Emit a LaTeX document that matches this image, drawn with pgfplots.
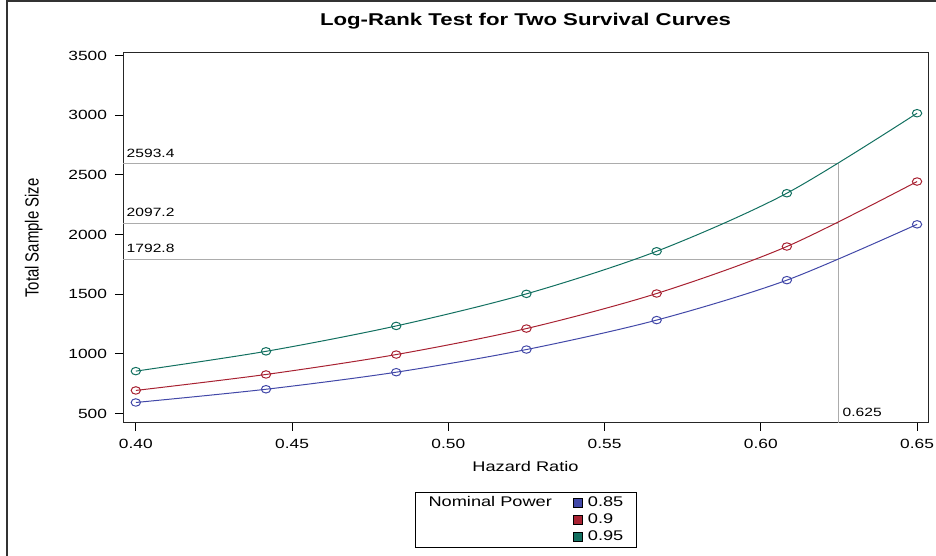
\documentclass[border=0pt]{standalone}
\usepackage{fontspec}
\setmainfont{Liberation Sans}[FakeStretch=1.3]
\newfontfamily\ylabfont{Liberation Sans}[FakeStretch=0.785]
\usepackage{pgfplots}
\pgfplotsset{compat=1.18}

\definecolor{sasblue}{RGB}{66,72,168}
\definecolor{sasred}{RGB}{168,34,50}
\definecolor{sasteal}{RGB}{18,112,96}
\definecolor{refgray}{RGB}{172,172,172}

\begin{document}
\begin{tikzpicture}
\path[use as bounding box] (0,0) rectangle (702pt,417pt);
\begin{axis}[
    at={(92.25pt,99.75pt)}, anchor=south west,
    scale only axis, width=603.75pt, height=277.5pt,
    xmin=0.3959, xmax=0.6535,
    ymin=420, ymax=3523,
    xtick={0.40,0.45,0.50,0.55,0.60,0.65},
    ytick={500,1000,1500,2000,2500,3000,3500},
    tick align=outside, xtick pos=bottom, ytick pos=left,
    major tick length=6pt,
    tick style={black, line width=0.75pt},
    axis line style={black!85, line width=0.75pt},
    /pgf/number format/assume math mode=true,
    xticklabel style={yshift=-2.6pt, /pgf/number format/.cd, fixed, fixed zerofill, precision=2},
    yticklabel style={xshift=-2.5pt, /pgf/number format/1000 sep={}},
    ticklabel style={font=\fontsize{10}{12}\selectfont},
    title={Log-Rank Test for Two Survival Curves},
    title style={font=\bfseries\fontsize{12.8}{15}\selectfont,
        at={(axis description cs:0.5,1.0524)}, anchor=base},
    xlabel={Hazard Ratio},
    xlabel style={font=\fontsize{10.5}{12}\selectfont,
        at={(axis description cs:0.5,-0.1324)}, anchor=base},
    ylabel={\ylabfont Total Sample Size},
    ylabel style={font=\fontsize{14.25}{16}\selectfont,
        at={(axis description cs:-0.1048,0.5)}, anchor=base},
    legend style={at={(axis description cs:0.3627,-0.1865)}, anchor=north west,
        draw=black, line width=0.75pt, font=\fontsize{10.5}{12}\selectfont,
        inner xsep=6pt, inner ysep=1.5pt, row sep=0pt,
        nodes={text height=7.5pt, text depth=2pt, inner ysep=1.6pt, inner xsep=3.8pt},
        /tikz/every even column/.append style={column sep=12pt}},
    legend columns=2,
    legend cell align=left,
]
% reference lines at hazard ratio 0.625
\addplot[refgray, line width=0.75pt, forget plot]
    coordinates {(0.3959,2593.4)(0.625,2593.4)(0.625,420)};
\addplot[refgray, line width=0.75pt, forget plot]
    coordinates {(0.3959,2097.2)(0.625,2097.2)};
\addplot[refgray, line width=0.75pt, forget plot]
    coordinates {(0.3959,1792.8)(0.625,1792.8)};

% power 0.85
\addplot[sasblue, line width=0.75pt, smooth, mark=o, mark size=2.8pt,
    mark options={xscale=1.25, solid}, forget plot]
    coordinates {
    (0.400,592)(0.441667,703)(0.483333,846)(0.525,1036)
    (0.566667,1283)(0.608333,1618)(0.650,2086)
    };
% power 0.9
\addplot[sasred, line width=0.75pt, smooth, mark=o, mark size=2.8pt,
    mark options={xscale=1.25, solid}, forget plot]
    coordinates {
    (0.400,693)(0.441667,827)(0.483333,994)(0.525,1212)
    (0.566667,1506)(0.608333,1900)(0.650,2445)
    };
% power 0.95
\addplot[sasteal, line width=0.75pt, smooth, mark=o, mark size=2.8pt,
    mark options={xscale=1.25, solid}, forget plot]
    coordinates {
    (0.400,855)(0.441667,1021)(0.483333,1234)(0.525,1503)
    (0.566667,1860)(0.608333,2347)(0.650,3018)
    };

\node[anchor=base west, font=\fontsize{9}{10}\selectfont, inner sep=0pt]
    at (axis cs:0.3959,2593.4) [xshift=2.6pt, yshift=5pt] {2593.4};
\node[anchor=base west, font=\fontsize{9}{10}\selectfont, inner sep=0pt]
    at (axis cs:0.3959,2097.2) [xshift=2.6pt, yshift=5pt] {2097.2};
\node[anchor=base west, font=\fontsize{9}{10}\selectfont, inner sep=0pt]
    at (axis cs:0.3959,1792.8) [xshift=2.6pt, yshift=5pt] {1792.8};
\node[anchor=base west, font=\fontsize{9}{10}\selectfont, inner sep=0pt]
    at (axis cs:0.625,420) [xshift=2.6pt, yshift=4.7pt] {0.625};

\addlegendimage{empty legend}
\addlegendentry{Nominal Power}
\addlegendimage{legend image code/.code={\draw[fill=sasblue,draw=black,line width=0.6pt] (0pt,-3.4pt) rectangle (6.8pt,3.4pt);}}
\addlegendentry{0.85}
\addlegendimage{empty legend}
\addlegendentry{}
\addlegendimage{legend image code/.code={\draw[fill=sasred,draw=black,line width=0.6pt] (0pt,-3.4pt) rectangle (6.8pt,3.4pt);}}
\addlegendentry{0.9}
\addlegendimage{empty legend}
\addlegendentry{}
\addlegendimage{legend image code/.code={\draw[fill=sasteal,draw=black,line width=0.6pt] (0pt,-3.4pt) rectangle (6.8pt,3.4pt);}}
\addlegendentry{0.95}
\end{axis}
% outer frame of the graph area
\draw[black!80, line width=1.5pt] (5.25pt,0pt) -- (5.25pt,416pt) -- (702pt,416pt);
\end{tikzpicture}
\end{document}
